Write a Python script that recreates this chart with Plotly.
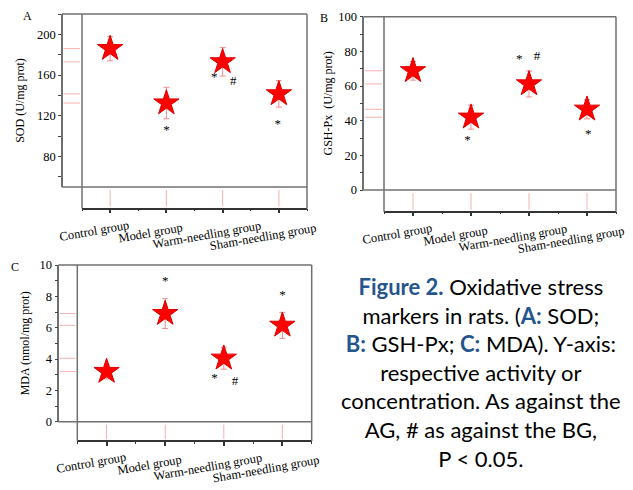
import plotly.graph_objects as go

W, H = 633, 490

categories = ["Control group", "Model group", "Warm-needling group", "Sham-needling group"]

sod_mean = [186.0, 132.5, 173.0, 141.5]
sod_err = [12.0, 15.5, 14.0, 13.0]
sod_sig_x = [1.0, 1.85, 2.19, 2.98]
sod_sig_y = [105, 157, 153, 111]
sod_sig_t = ["*", "*", "#", "*"]

gsh_mean = [68.8, 42.0, 61.2, 46.6]
gsh_err = [5.4, 6.9, 7.5, 5.5]
gsh_sig_x = [0.94, 1.83, 2.14, 3.02]
gsh_sig_y = [28.4, 75.0, 76.8, 31.7]
gsh_sig_t = ["*", "*", "#", "*"]

mda_mean = [3.2, 6.9, 4.05, 6.15]
mda_err = [0.47, 0.95, 0.7, 0.83]
mda_sig_x = [1.0, 1.84, 2.19, 3.0]
mda_sig_y = [8.9, 2.72, 2.55, 8.04]
mda_sig_t = ["*", "*", "#", "*"]

caption_lines = [
    "<b><span style='color:#25558c'>Figure 2.</span></b> Oxidative stress",
    "markers in rats. (<b><span style='color:#25558c'>A:</span></b> SOD;",
    "<b><span style='color:#25558c'>B:</span></b> GSH-Px; <b><span style='color:#25558c'>C:</span></b> MDA). Y-axis:",
    "respective activity or",
    "concentration. As against the",
    "AG, # as against the BG,",
    "P &lt; 0.05.",
]


def fx(px):
    return px / W


def fy(py):
    return 1 - py / H


panels = [
    dict(letter="A", yx=62, top=14, base=187, inner=82, bottom=208.5, right=307,
         yr=[50, 220], dt=40, mdt=20, mean=sod_mean, err=sod_err,
         sx=sod_sig_x, sy=sod_sig_y, st=sod_sig_t, title="SOD (U/mg prot)",
         standoff=9, lab=(27, 16)),
    dict(letter="B", yx=363.3, top=16.7, base=190, inner=384, bottom=211.7, right=616,
         yr=[0, 100], dt=20, mdt=10, mean=gsh_mean, err=gsh_err,
         sx=gsh_sig_x, sy=gsh_sig_y, st=gsh_sig_t, title="GSH-Px  (U/mg prot)",
         standoff=2, lab=(324, 18)),
    dict(letter="C", yx=58.3, top=265, base=421.7, inner=77.3, bottom=441, right=311.7,
         yr=[0, 10], dt=2, mdt=1, mean=mda_mean, err=mda_err,
         sx=mda_sig_x, sy=mda_sig_y, st=mda_sig_t, title="MDA (nmol/mg prot)",
         standoff=6, lab=(15, 267)),
]

SERIF = "Liberation Serif"
AXC = "#707070"
PINK = "#f5b0b0"

fig = go.Figure()
layout = dict(
    width=W, height=H, margin=dict(l=0, r=0, t=0, b=0),
    paper_bgcolor="white", plot_bgcolor="white", showlegend=False,
    font=dict(family=SERIF, size=12, color="black"),
)
shapes = []
annotations = []
xs = list(range(len(categories)))

for i, p in enumerate(panels):
    xn = "x" if i == 0 else f"x{i+1}"
    yn = "y" if i == 0 else f"y{i+1}"
    xk = "xaxis" if i == 0 else f"xaxis{i+1}"
    yk = "yaxis" if i == 0 else f"yaxis{i+1}"

    fig.add_trace(go.Scatter(
        x=xs, y=p["mean"], mode="markers", xaxis=xn, yaxis=yn,
        marker=dict(symbol="star", size=19, color="#ff0000",
                    line=dict(color="#e00000", width=1)),
        error_y=dict(type="data", array=p["err"], visible=True,
                     color="#f08c8c", thickness=1, width=3),
        cliponaxis=False,
    ))
    fig.add_trace(go.Scatter(
        x=p["sx"], y=p["sy"], mode="text", text=p["st"], xaxis=xn, yaxis=yn,
        textposition="middle center",
        textfont=dict(family=SERIF, size=13, color="black"),
        cliponaxis=False,
    ))

    layout[xk] = dict(
        domain=[fx(p["inner"]), fx(p["right"])], range=[-0.5, 3.5],
        anchor="free", position=fy(p["bottom"]),
        showline=True, linecolor="#333333", linewidth=1.5,
        showgrid=False, zeroline=False,
        tickmode="array", tickvals=xs, showticklabels=False,
        ticks="outside", ticklen=4, tickwidth=1.5, tickcolor="#333333",
        minor=dict(tickvals=[-0.5, 0.5, 1.5, 2.5, 3.5], ticks="outside",
                   ticklen=2, tickwidth=1, tickcolor="#333333"),
        fixedrange=True,
    )
    layout[yk] = dict(
        domain=[fy(p["base"]), fy(p["top"])], range=p["yr"],
        anchor="free", position=fx(p["yx"]),
        showline=True, linecolor=AXC, linewidth=1.5,
        showgrid=False, zeroline=False,
        tickmode="linear", tick0=0, dtick=p["dt"],
        ticks="outside", ticklen=3, tickwidth=1, tickcolor="#444444",
        minor=dict(dtick=p["mdt"], tick0=0, ticks="outside", ticklen=3,
                   tickwidth=1, tickcolor="#444444"),
        tickfont=dict(family=SERIF, size=12.5, color="black"),
        title=dict(text=p["title"], font=dict(family=SERIF, size=12, color="black"),
                   standoff=p["standoff"]),
        automargin=False, fixedrange=True,
    )

    line = dict(color=AXC, width=1.5)
    shapes += [
        dict(type="line", xref="paper", yref="paper", x0=fx(p["yx"]), x1=fx(p["right"]),
             y0=fy(p["top"]), y1=fy(p["top"]), line=line),
        dict(type="line", xref="paper", yref="paper", x0=fx(p["yx"]), x1=fx(p["right"]),
             y0=fy(p["base"]), y1=fy(p["base"]), line=line),
        dict(type="line", xref="paper", yref="paper", x0=fx(p["inner"]), x1=fx(p["inner"]),
             y0=fy(p["top"]), y1=fy(p["bottom"]), line=line),
        dict(type="line", xref="paper", yref="paper", x0=fx(p["right"]), x1=fx(p["right"]),
             y0=fy(p["top"]), y1=fy(p["bottom"]), line=line),
    ]
    for k in xs:
        shapes.append(dict(type="line", xref=xn, yref="paper", x0=k, x1=k,
                           y0=fy(p["base"] + 3), y1=fy(p["bottom"] - 2),
                           line=dict(color=PINK, width=1)))
    for m in p["mean"]:
        shapes.append(dict(type="line", xref="paper", yref=yn,
                           x0=fx(p["yx"] + 1.5), x1=fx(p["inner"] - 2), y0=m, y1=m,
                           line=dict(color=PINK, width=1)))
    for k, c in enumerate(categories):
        annotations.append(dict(
            text=c, xref=xn, yref="paper", x=k, y=fy(p["bottom"] + 22 + 2 * k),
            xshift=-16, showarrow=False, textangle=-10,
            xanchor="center", yanchor="middle",
            font=dict(family=SERIF, size=12.5, color="black"),
        ))
    annotations.append(dict(
        text=p["letter"], xref="paper", yref="paper", x=fx(p["lab"][0]), y=fy(p["lab"][1]),
        showarrow=False, xanchor="center", yanchor="middle",
        font=dict(family=SERIF, size=12, color="black"),
    ))

annotations.append(dict(
    text="<br>".join(caption_lines), xref="paper", yref="paper",
    x=fx(481), y=fy(372.5), xanchor="center", yanchor="middle", align="center",
    showarrow=False, font=dict(family="Lato", size=22, color="black"),
))

layout["shapes"] = shapes
layout["annotations"] = annotations
fig.update_layout(**layout)
fig.write_html("out.html", config={"displayModeBar": False},
               post_script="document.body.style.margin='0px';")
